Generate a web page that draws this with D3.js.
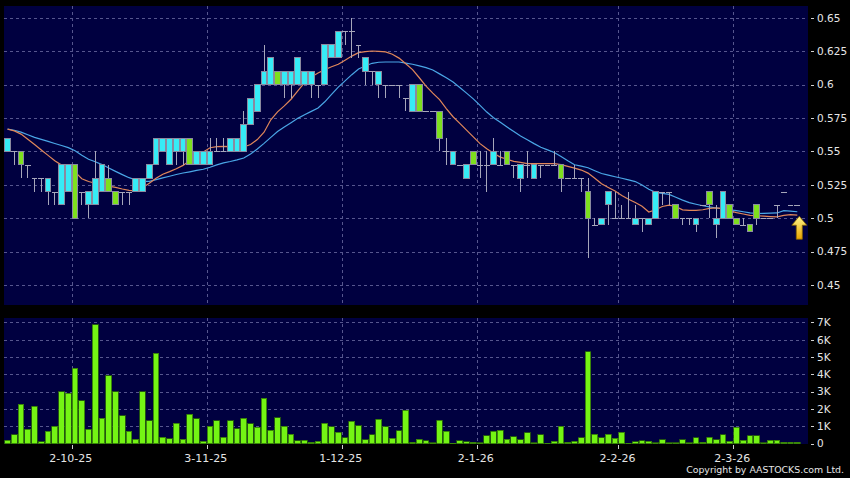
<!DOCTYPE html>
<html>
<head>
<meta charset="utf-8">
<script src="https://cdn.jsdelivr.net/npm/d3@7"></script>
<style>
  html, body { margin: 0; padding: 0; background: #000; }
  svg { display: block; }
  text { font-family: 'DejaVu Sans', Verdana, sans-serif; fill: #e6e6e6; }
</style>
</head>
<body>
<div id="chart"></div>
<script>
// trading days shown on the chart
const dates = (
  '2025-09-17 2025-09-18 2025-09-19 2025-09-22 2025-09-23 2025-09-24 2025-09-25 2025-09-26 2025-09-29 2025-09-30 ' +
  '2025-10-02 2025-10-03 2025-10-06 2025-10-08 2025-10-09 2025-10-10 2025-10-13 2025-10-14 2025-10-15 2025-10-16 ' +
  '2025-10-17 2025-10-20 2025-10-21 2025-10-22 2025-10-23 2025-10-24 2025-10-27 2025-10-28 2025-10-30 2025-10-31 ' +
  '2025-11-03 2025-11-04 2025-11-05 2025-11-06 2025-11-07 2025-11-10 2025-11-11 2025-11-12 2025-11-13 2025-11-14 ' +
  '2025-11-17 2025-11-18 2025-11-19 2025-11-20 2025-11-21 2025-11-24 2025-11-25 2025-11-26 2025-11-27 2025-11-28 ' +
  '2025-12-01 2025-12-02 2025-12-03 2025-12-04 2025-12-05 2025-12-08 2025-12-09 2025-12-10 2025-12-11 2025-12-12 ' +
  '2025-12-15 2025-12-16 2025-12-17 2025-12-18 2025-12-19 2025-12-22 2025-12-23 2025-12-29 2025-12-30 2025-12-31 ' +
  '2026-01-02 2026-01-05 2026-01-06 2026-01-07 2026-01-08 2026-01-09 2026-01-12 2026-01-13 2026-01-14 2026-01-15 ' +
  '2026-01-16 2026-01-19 2026-01-20 2026-01-21 2026-01-22 2026-01-23 2026-01-26 2026-01-27 2026-01-28 2026-01-29 ' +
  '2026-01-30 2026-02-02 2026-02-03 2026-02-04 2026-02-05 2026-02-06 2026-02-09 2026-02-10 2026-02-11 2026-02-12 ' +
  '2026-02-13 2026-02-16 2026-02-20 2026-02-23 2026-02-24 2026-02-25 2026-02-26 2026-02-27 2026-03-02 2026-03-03 ' +
  '2026-03-04 2026-03-05 2026-03-06 2026-03-09 2026-03-10 2026-03-11 2026-03-12 2026-03-13'
).split(' ')

const open = [
  0.55, 0.55, 0.55, 0.54, 0.53, 0.53, 0.52, 0.52, 0.51, 0.52,
  0.54, 0.52, 0.51, 0.51, 0.52, 0.53, 0.52, 0.52, 0.52, 0.52,
  0.52, 0.53, 0.54, 0.55, 0.54, 0.55, 0.55, 0.56, 0.54, 0.54,
  0.54, 0.55, 0.55, 0.55, 0.55, 0.55, 0.57, 0.58, 0.60, 0.60,
  0.61, 0.60, 0.60, 0.60, 0.60, 0.60, 0.60, 0.60, 0.62, 0.62,
  0.64, 0.64, 0.63, 0.61, 0.61, 0.60, 0.60, 0.60, 0.60, 0.59,
  0.58, 0.60, 0.58, 0.58, 0.58, 0.55, 0.54, 0.54, 0.53, 0.55,
  0.54, 0.54, 0.54, 0.54, 0.55, 0.54, 0.53, 0.54, 0.53, 0.54,
  0.54, 0.54, 0.54, 0.53, 0.53, 0.53, 0.52, 0.495, 0.495, 0.51,
  0.50, 0.50, 0.50, 0.495, 0.50, 0.495, 0.50, 0.52, 0.52, 0.51,
  0.50, 0.50, 0.495, 0.51, 0.52, 0.495, 0.50, 0.51, 0.50, 0.495,
  0.495, 0.51, 0.50, 0.50, 0.51, 0.52, 0.51, 0.51
]
const high = [
  0.56, 0.55, 0.55, 0.54, 0.53, 0.53, 0.53, 0.52, 0.54, 0.54,
  0.54, 0.52, 0.52, 0.55, 0.54, 0.54, 0.52, 0.52, 0.52, 0.53,
  0.53, 0.54, 0.56, 0.56, 0.56, 0.56, 0.56, 0.56, 0.55, 0.55,
  0.56, 0.56, 0.56, 0.56, 0.56, 0.58, 0.59, 0.60, 0.63, 0.62,
  0.61, 0.61, 0.61, 0.62, 0.61, 0.61, 0.60, 0.63, 0.63, 0.64,
  0.64, 0.65, 0.63, 0.62, 0.61, 0.61, 0.60, 0.60, 0.60, 0.59,
  0.60, 0.60, 0.58, 0.58, 0.58, 0.56, 0.55, 0.54, 0.54, 0.55,
  0.55, 0.55, 0.56, 0.55, 0.55, 0.54, 0.54, 0.55, 0.54, 0.54,
  0.54, 0.55, 0.54, 0.53, 0.54, 0.53, 0.53, 0.50, 0.50, 0.52,
  0.52, 0.51, 0.52, 0.51, 0.50, 0.50, 0.52, 0.52, 0.52, 0.51,
  0.50, 0.50, 0.50, 0.51, 0.52, 0.51, 0.52, 0.51, 0.50, 0.50,
  0.495, 0.51, 0.50, 0.50, 0.51, 0.52, 0.51, 0.51
]
const low = [
  0.55, 0.54, 0.53, 0.53, 0.52, 0.52, 0.51, 0.51, 0.51, 0.52,
  0.50, 0.51, 0.50, 0.51, 0.52, 0.52, 0.51, 0.51, 0.51, 0.52,
  0.52, 0.53, 0.54, 0.55, 0.54, 0.54, 0.54, 0.54, 0.54, 0.54,
  0.54, 0.55, 0.55, 0.55, 0.55, 0.55, 0.57, 0.58, 0.60, 0.60,
  0.60, 0.59, 0.59, 0.60, 0.60, 0.59, 0.59, 0.60, 0.62, 0.62,
  0.63, 0.62, 0.62, 0.60, 0.60, 0.59, 0.59, 0.60, 0.59, 0.58,
  0.58, 0.58, 0.58, 0.58, 0.55, 0.54, 0.54, 0.54, 0.53, 0.54,
  0.53, 0.52, 0.54, 0.54, 0.54, 0.53, 0.52, 0.53, 0.53, 0.53,
  0.54, 0.54, 0.52, 0.53, 0.53, 0.52, 0.47, 0.495, 0.495, 0.495,
  0.50, 0.50, 0.50, 0.495, 0.49, 0.495, 0.50, 0.51, 0.51, 0.50,
  0.495, 0.495, 0.49, 0.51, 0.50, 0.485, 0.50, 0.50, 0.495, 0.495,
  0.49, 0.495, 0.50, 0.50, 0.50, 0.52, 0.51, 0.51
]
const close = [
  0.56, 0.55, 0.54, 0.54, 0.53, 0.53, 0.53, 0.52, 0.54, 0.54,
  0.50, 0.52, 0.52, 0.53, 0.54, 0.52, 0.51, 0.52, 0.52, 0.53,
  0.53, 0.54, 0.56, 0.56, 0.56, 0.56, 0.56, 0.54, 0.55, 0.55,
  0.55, 0.55, 0.55, 0.56, 0.56, 0.57, 0.59, 0.60, 0.61, 0.62,
  0.60, 0.61, 0.61, 0.62, 0.61, 0.61, 0.60, 0.63, 0.63, 0.64,
  0.64, 0.64, 0.63, 0.62, 0.61, 0.61, 0.60, 0.60, 0.60, 0.59,
  0.60, 0.58, 0.58, 0.58, 0.56, 0.55, 0.55, 0.54, 0.54, 0.54,
  0.54, 0.54, 0.55, 0.54, 0.54, 0.54, 0.54, 0.54, 0.54, 0.54,
  0.54, 0.54, 0.53, 0.53, 0.53, 0.53, 0.50, 0.495, 0.50, 0.52,
  0.50, 0.50, 0.50, 0.50, 0.50, 0.50, 0.52, 0.52, 0.52, 0.50,
  0.50, 0.50, 0.50, 0.51, 0.51, 0.50, 0.52, 0.50, 0.495, 0.495,
  0.49, 0.50, 0.50, 0.50, 0.51, 0.52, 0.51, 0.51
]
// volume, thousands of shares
const volume = [
  0.19, 0.52, 2.28, 0.83, 2.15, 0.10, 0.70, 0.99, 3.00, 2.92,
  4.35, 2.48, 0.83, 6.87, 1.45, 3.91, 3.00, 1.60, 0.70, 0.25,
  2.98, 1.32, 5.22, 0.35, 0.27, 1.18, 0.25, 1.68, 1.43, 0.14,
  0.99, 1.33, 0.37, 1.33, 0.85, 1.47, 1.14, 0.93, 2.63, 0.77,
  1.49, 0.99, 0.54, 0.15, 0.19, 0.08, 0.14, 1.16, 0.97, 0.66,
  0.33, 1.30, 1.03, 0.21, 0.52, 1.39, 0.97, 0.31, 0.75, 1.93,
  0.06, 0.25, 0.17, 0.04, 1.35, 0.70, 0.02, 0.15, 0.10, 0.06,
  0.04, 0.45, 0.70, 0.77, 0.25, 0.39, 0.23, 0.62, 0.04, 0.52,
  0.02, 0.12, 1.00, 0.06, 0.14, 0.33, 5.30, 0.54, 0.33, 0.54,
  0.31, 0.64, 0.02, 0.10, 0.15, 0.14, 0.04, 0.23, 0.05, 0.05,
  0.21, 0.04, 0.33, 0.06, 0.35, 0.23, 0.52, 0.14, 0.93, 0.19,
  0.46, 0.45, 0.04, 0.19, 0.19, 0.06, 0.06, 0.06
]
// moving averages as drawn (orange = short, blue = long)
const maShort = [
  0.5668, 0.5654, 0.5630, 0.5591, 0.5552, 0.5511, 0.5471, 0.5431, 0.5398, 0.5380,
  0.5347, 0.5296, 0.5275, 0.5262, 0.5252, 0.5241, 0.5231, 0.5219, 0.5209, 0.5205,
  0.5229, 0.5262, 0.5299, 0.5330, 0.5349, 0.5371, 0.5396, 0.5433, 0.5471, 0.5496,
  0.5528, 0.5537, 0.5539, 0.5537, 0.5535, 0.5534, 0.5552, 0.5589, 0.5644, 0.5737,
  0.5797, 0.5841, 0.5891, 0.5953, 0.6016, 0.6058, 0.6088, 0.6113, 0.6134, 0.6153,
  0.6183, 0.6214, 0.6240, 0.6248, 0.6252, 0.6249, 0.6246, 0.6228, 0.6199, 0.6157,
  0.6113, 0.6052, 0.5989, 0.5937, 0.5888, 0.5821, 0.5760, 0.5710, 0.5660, 0.5609,
  0.5559, 0.5520, 0.5487, 0.5458, 0.5442, 0.5426, 0.5418, 0.5409, 0.5409, 0.5409,
  0.5409, 0.5409, 0.5402, 0.5389, 0.5376, 0.5361, 0.5338, 0.5299, 0.5259, 0.5231,
  0.5204, 0.5171, 0.5142, 0.5118, 0.5090, 0.5047, 0.5064, 0.5088, 0.5099, 0.5088,
  0.5063, 0.5060, 0.5060, 0.5064, 0.5074, 0.5078, 0.5073, 0.5056, 0.5043, 0.5032,
  0.5022, 0.5019, 0.5016, 0.5013, 0.5010, 0.5022, 0.5027, 0.5023
]
const maLong = [
  0.5667, 0.5659, 0.5645, 0.5625, 0.5606, 0.5591, 0.5576, 0.5560, 0.5545, 0.5529,
  0.5505, 0.5472, 0.5442, 0.5423, 0.5402, 0.5376, 0.5351, 0.5327, 0.5304, 0.5287,
  0.5277, 0.5277, 0.5290, 0.5302, 0.5315, 0.5328, 0.5339, 0.5348, 0.5358, 0.5367,
  0.5382, 0.5400, 0.5415, 0.5425, 0.5437, 0.5451, 0.5481, 0.5519, 0.5561, 0.5606,
  0.5649, 0.5683, 0.5715, 0.5748, 0.5775, 0.5800, 0.5826, 0.5872, 0.5927, 0.5982,
  0.6029, 0.6075, 0.6117, 0.6140, 0.6160, 0.6168, 0.6170, 0.6170, 0.6170, 0.6162,
  0.6153, 0.6141, 0.6128, 0.6110, 0.6081, 0.6052, 0.6020, 0.5979, 0.5937, 0.5894,
  0.5845, 0.5795, 0.5753, 0.5718, 0.5683, 0.5649, 0.5616, 0.5588, 0.5559, 0.5532,
  0.5512, 0.5492, 0.5463, 0.5431, 0.5401, 0.5391, 0.5378, 0.5356, 0.5335, 0.5323,
  0.5311, 0.5300, 0.5287, 0.5275, 0.5249, 0.5218, 0.5194, 0.5187, 0.5179, 0.5158,
  0.5136, 0.5117, 0.5105, 0.5094, 0.5085, 0.5077, 0.5070, 0.5064, 0.5058, 0.5049,
  0.5040, 0.5036, 0.5037, 0.5038, 0.5040, 0.5057, 0.5054, 0.5049
]
const priceTicks = [0.45, 0.475, 0.5, 0.525, 0.55, 0.575, 0.6, 0.625, 0.65]
const volTicks = [0, 1, 2, 3, 4, 5, 6, 7]

const width = 850
const height = 478
const plotLeft = 4
const plotRight = 808
const price = { top: 6, bottom: 305 }
const vol = { top: 318, bottom: 444 }

const gridColor = '#56568e'
const upColor = '#36ecf6'
const downColor = '#7ee01e'
const wickColor = '#a6a6ba'

const svg = d3
  .select('#chart')
  .append('svg')
  .attr('width', width)
  .attr('height', height)

svg.append('rect')
  .attr('width', width)
  .attr('height', height)
  .attr('fill', '#000')

const xScale = d3
  .scaleBand()
  .domain(dates)
  .range([4.175, 4.175 + dates.length * 6.75])
  .paddingInner(0.15)
  .paddingOuter(0.075)

const yPrice = d3.scaleLinear().domain([0.4351, 0.6589]).range([price.bottom, price.top])
const yVol = d3.scaleLinear().domain([0, 7.26]).range([vol.bottom - 0.5, vol.top])

const candles = dates.map((d, i) => ({
  date: d, open: open[i], high: high[i], low: low[i], close: close[i], vol: volume[i]
}))

const parse = d3.timeParse('%Y-%m-%d')
const fmt = d3.timeFormat('%-d-%-m-%y')
// first trading day of each new month gets a grid line and a label
const monthStarts = dates.filter((d, i) => i > 0 && parse(d).getMonth() !== parse(dates[i - 1]).getMonth())
const gridX = d => xScale(d) - (xScale.step() - xScale.bandwidth()) / 2

// panels
svg.append('rect')
  .attr('x', plotLeft).attr('y', price.top)
  .attr('width', plotRight - plotLeft).attr('height', price.bottom - price.top)
  .attr('fill', '#000040')
svg.append('rect')
  .attr('x', plotLeft).attr('y', vol.top)
  .attr('width', plotRight - plotLeft).attr('height', vol.bottom - vol.top)
  .attr('fill', '#000040')

// grid lines
const grid = svg.append('g')
  .attr('stroke', gridColor)
  .attr('stroke-dasharray', '3,3')
  .attr('shape-rendering', 'crispEdges')

grid.selectAll('.hp')
  .data(priceTicks)
  .enter()
  .append('line')
  .attr('x1', plotLeft).attr('x2', plotRight)
  .attr('y1', d => Math.round(yPrice(d)) + 0.5)
  .attr('y2', d => Math.round(yPrice(d)) + 0.5)

grid.selectAll('.hv')
  .data(volTicks.filter(d => d > 0))
  .enter()
  .append('line')
  .attr('x1', plotLeft).attr('x2', plotRight)
  .attr('y1', d => Math.round(yVol(d)) + 0.5)
  .attr('y2', d => Math.round(yVol(d)) + 0.5)

monthStarts.forEach(d => {
  const x = Math.round(gridX(d)) + 0.5
  grid.append('line').attr('x1', x).attr('x2', x).attr('y1', price.top).attr('y2', price.bottom)
  grid.append('line').attr('x1', x).attr('x2', x).attr('y1', vol.top).attr('y2', vol.bottom)
})

// moving averages
const maLine = values => d3
  .line()
  .x((d, i) => xScale(dates[i]) + xScale.bandwidth() / 2)
  .y(d => yPrice(d))(values)

svg.append('path')
  .attr('d', maLine(maLong))
  .attr('fill', 'none')
  .attr('stroke', '#4aa6e6')
  .attr('stroke-width', 1.2)

svg.append('path')
  .attr('d', maLine(maShort))
  .attr('fill', 'none')
  .attr('stroke', '#e0875a')
  .attr('stroke-width', 1.2)

// candles
const candleG = svg.append('g').attr('shape-rendering', 'crispEdges')

candleG.selectAll('.wick')
  .data(candles.filter(d => d.high > d.low))
  .enter()
  .append('line')
  .attr('x1', d => Math.floor(xScale(d.date) + xScale.bandwidth() / 2) + 0.5)
  .attr('x2', d => Math.floor(xScale(d.date) + xScale.bandwidth() / 2) + 0.5)
  .attr('y1', d => yPrice(d.high))
  .attr('y2', d => yPrice(d.low))
  .attr('stroke', wickColor)

candleG.selectAll('.doji')
  .data(candles.filter(d => d.open === d.close))
  .enter()
  .append('line')
  .attr('x1', d => xScale(d.date))
  .attr('x2', d => xScale(d.date) + xScale.bandwidth())
  .attr('y1', d => Math.round(yPrice(d.close)) + 0.5)
  .attr('y2', d => Math.round(yPrice(d.close)) + 0.5)
  .attr('stroke', wickColor)

candleG.selectAll('.body')
  .data(candles.filter(d => d.open !== d.close))
  .enter()
  .append('rect')
  .attr('x', d => xScale(d.date))
  .attr('y', d => yPrice(Math.max(d.open, d.close)))
  .attr('width', xScale.bandwidth())
  .attr('height', d => yPrice(Math.min(d.open, d.close)) - yPrice(Math.max(d.open, d.close)))
  .attr('fill', d => (d.close > d.open ? upColor : downColor))
  .attr('stroke', '#8a8aa0')
  .attr('stroke-width', 1)

// volume bars
svg.append('g')
  .attr('shape-rendering', 'crispEdges')
  .selectAll('.vol')
  .data(candles)
  .enter()
  .append('rect')
  .attr('x', d => xScale(d.date))
  .attr('y', d => yVol(d.vol))
  .attr('width', xScale.bandwidth())
  .attr('height', d => yVol(0) - yVol(d.vol))
  .attr('fill', '#74f414')
  .attr('stroke', '#2c6a08')
  .attr('stroke-width', 0.8)

// yellow arrow marking the latest bar
const last = candles[candles.length - 1]
const defs = svg.append('defs')
const grad = defs.append('linearGradient')
  .attr('id', 'arrowGrad')
  .attr('x1', 0).attr('y1', 0).attr('x2', 0).attr('y2', 1)
grad.append('stop').attr('offset', '0%').attr('stop-color', '#fff48a')
grad.append('stop').attr('offset', '100%').attr('stop-color', '#e8a400')

svg.append('path')
  .attr('d', 'M0,0 L7.5,9 L3,9 L3,23 L-3,23 L-3,9 L-7.5,9 Z')
  .attr('transform', `translate(${xScale(last.date) + xScale.bandwidth() / 2 + 2},${yPrice(maShort[maShort.length - 1]) + 1})`)
  .attr('fill', 'url(#arrowGrad)')
  .attr('stroke', '#8a6400')
  .attr('stroke-width', 0.8)

// right-hand axes
const axisG = svg.append('g')

axisG.selectAll('.ptick')
  .data(priceTicks)
  .enter()
  .append('line')
  .attr('x1', 811).attr('x2', 814)
  .attr('y1', d => Math.round(yPrice(d)) + 0.5)
  .attr('y2', d => Math.round(yPrice(d)) + 0.5)
  .attr('stroke', '#d0d0d0')

axisG.selectAll('.plabel')
  .data(priceTicks)
  .enter()
  .append('text')
  .attr('x', 817)
  .attr('y', d => yPrice(d))
  .attr('dy', '0.36em')
  .style('font-size', '10.5px')
  .text(d => d3.format('')(d))

axisG.selectAll('.vtick')
  .data(volTicks)
  .enter()
  .append('line')
  .attr('x1', 811).attr('x2', 814)
  .attr('y1', d => Math.round(yVol(d)) + 0.5)
  .attr('y2', d => Math.round(yVol(d)) + 0.5)
  .attr('stroke', '#d0d0d0')

axisG.selectAll('.vlabel')
  .data(volTicks)
  .enter()
  .append('text')
  .attr('x', 817)
  .attr('y', d => yVol(d))
  .attr('dy', '0.36em')
  .style('font-size', '10.5px')
  .text(d => (d === 0 ? '0' : d + 'K'))

// date labels
axisG.selectAll('.xtick')
  .data(monthStarts)
  .enter()
  .append('line')
  .attr('x1', d => Math.round(gridX(d)) + 0.5)
  .attr('x2', d => Math.round(gridX(d)) + 0.5)
  .attr('y1', 445).attr('y2', 449)
  .attr('stroke', '#d0d0d0')

axisG.selectAll('.xlabel')
  .data(monthStarts)
  .enter()
  .append('text')
  .attr('x', d => gridX(d) - 1)
  .attr('y', 462)
  .attr('text-anchor', 'middle')
  .style('font-size', '11px')
  .text(d => fmt(parse(d)))

svg.append('text')
  .attr('x', 844)
  .attr('y', 473)
  .attr('text-anchor', 'end')
  .style('font-size', '9.4px')
  .text('Copyright by AASTOCKS.com Ltd.')
</script>
</body>
</html>
